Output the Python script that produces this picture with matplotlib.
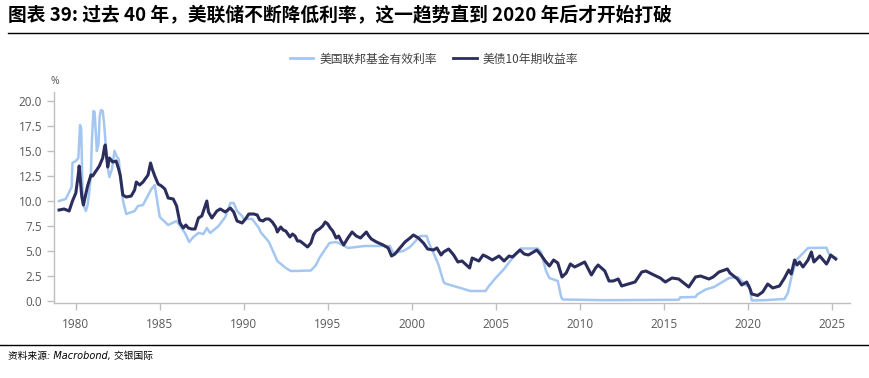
import matplotlib.pyplot as plt
from matplotlib.lines import Line2D

plt.rcParams['font.family'] = ['Noto Sans CJK SC', 'DejaVu Sans']

# US effective federal funds rate (%)
ff_year = [1979.0, 1979.4, 1979.6, 1979.75, 1979.8, 1980.0, 1980.15, 1980.25, 1980.32, 1980.4,
           1980.5, 1980.6, 1980.7, 1980.8, 1980.9, 1980.95, 1981.05, 1981.12, 1981.25, 1981.35,
           1981.42, 1981.5, 1981.6, 1981.68, 1981.8, 1981.9, 1982.0, 1982.15, 1982.3, 1982.45,
           1982.55, 1982.65, 1982.8, 1983.0, 1983.5, 1983.7, 1984.0, 1984.5, 1984.7, 1984.9,
           1985.0, 1985.5, 1986.0, 1986.5, 1986.75, 1987.0, 1987.3, 1987.6, 1987.8, 1988.0,
           1988.5, 1988.9, 1989.2, 1989.4, 1989.6, 1989.9, 1990.0, 1990.5, 1990.9, 1991.0,
           1991.5, 1991.9, 1992.0, 1992.5, 1992.8, 1993.0, 1994.0, 1994.3, 1994.5, 1994.9,
           1995.1, 1995.5, 1995.9, 1996.2, 1997.2, 1998.0, 1998.7, 1998.9, 1999.5, 1999.9,
           2000.5, 2000.9, 2001.0, 2001.3, 2001.6, 2001.9, 2002.0, 2002.9, 2003.5, 2004.4,
           2004.6, 2005.0, 2005.5, 2006.0, 2006.5, 2007.5, 2007.7, 2008.0, 2008.2, 2008.7,
           2008.9, 2009.0, 2010.0, 2011.5, 2015.9, 2016.0, 2016.9, 2017.0, 2017.5, 2018.0,
           2018.5, 2018.9, 2019.4, 2019.6, 2019.9, 2020.1, 2020.25, 2021.0, 2022.2, 2022.4,
           2022.6, 2022.9, 2023.2, 2023.6, 2024.7, 2024.8, 2024.95, 2025.25]
ff_rate = [10.0, 10.2, 10.9, 11.4, 13.8, 14.0, 14.3, 17.6, 17.2, 11.0,
           9.4, 9.0, 9.6, 10.9, 12.8, 15.8, 19.0, 18.9, 15.0, 15.7,
           18.5, 19.1, 19.0, 17.8, 15.2, 13.3, 12.4, 13.2, 15.0, 14.4,
           14.2, 12.6, 10.1, 8.7, 9.0, 9.5, 9.6, 11.2, 11.6, 9.4,
           8.4, 7.6, 8.0, 6.8, 5.9, 6.4, 6.8, 6.7, 7.3, 6.8,
           7.5, 8.4, 9.8, 9.8, 9.0, 8.5, 8.2, 8.2, 7.3, 6.9,
           5.9, 4.4, 4.0, 3.3, 3.0, 3.0, 3.05, 3.6, 4.3, 5.3,
           5.8, 5.9, 5.6, 5.3, 5.5, 5.5, 5.5, 4.8, 5.0, 5.4,
           6.5, 6.5, 5.9, 4.8, 3.6, 1.9, 1.75, 1.3, 1.0, 1.0,
           1.5, 2.3, 3.2, 4.3, 5.25, 5.25, 4.9, 3.0, 2.3, 2.0,
           0.4, 0.15, 0.12, 0.08, 0.12, 0.37, 0.4, 0.65, 1.15, 1.4,
           1.9, 2.3, 2.4, 2.1, 1.55, 1.6, 0.05, 0.08, 0.2, 0.8,
           2.3, 4.1, 4.6, 5.3, 5.33, 4.85, 4.5, 4.33]

# US 10-year Treasury yield (%)
ty_year = [1979.0, 1979.3, 1979.6, 1979.8, 1980.0, 1980.15, 1980.2, 1980.35, 1980.45, 1980.7,
           1980.9, 1981.0, 1981.2, 1981.4, 1981.6, 1981.7, 1981.75, 1981.9, 1982.0, 1982.2,
           1982.4, 1982.55, 1982.65, 1982.8, 1983.0, 1983.3, 1983.5, 1983.6, 1983.8, 1984.0,
           1984.3, 1984.45, 1984.55, 1984.7, 1984.9, 1985.1, 1985.3, 1985.5, 1985.8, 1986.0,
           1986.2, 1986.4, 1986.55, 1986.7, 1986.9, 1987.1, 1987.3, 1987.5, 1987.7, 1987.8,
           1987.9, 1988.1, 1988.4, 1988.6, 1988.9, 1989.2, 1989.4, 1989.6, 1989.9, 1990.1,
           1990.3, 1990.6, 1990.8, 1990.95, 1991.15, 1991.3, 1991.5, 1991.7, 1991.9, 1992.0,
           1992.2, 1992.35, 1992.5, 1992.75, 1992.9, 1993.05, 1993.2, 1993.35, 1993.5, 1993.65,
           1993.8, 1994.0, 1994.15, 1994.3, 1994.5, 1994.7, 1994.85, 1995.0, 1995.15, 1995.3,
           1995.5, 1995.65, 1995.8, 1995.95, 1996.2, 1996.45, 1996.7, 1996.95, 1997.3, 1997.45,
           1997.6, 1997.9, 1998.3, 1998.6, 1998.8, 1999.0, 1999.3, 1999.6, 1999.9, 2000.1,
           2000.4, 2000.7, 2000.95, 2001.3, 2001.5, 2001.75, 2001.9, 2002.2, 2002.5, 2002.75,
           2003.0, 2003.45, 2003.6, 2004.0, 2004.25, 2004.5, 2004.8, 2005.2, 2005.5, 2005.8,
           2006.0, 2006.45, 2006.7, 2006.95, 2007.45, 2007.7, 2007.95, 2008.2, 2008.45, 2008.7,
           2008.95, 2009.2, 2009.45, 2009.7, 2009.95, 2010.3, 2010.7, 2010.95, 2011.1, 2011.5,
           2011.75, 2012.0, 2012.3, 2012.5, 2012.9, 2013.3, 2013.7, 2013.95, 2014.3, 2014.8,
           2015.1, 2015.5, 2015.9, 2016.5, 2016.9, 2017.2, 2017.7, 2017.95, 2018.3, 2018.8,
           2018.95, 2019.4, 2019.65, 2019.95, 2020.15, 2020.25, 2020.6, 2020.9, 2021.2, 2021.5,
           2021.9, 2022.2, 2022.45, 2022.6, 2022.8, 2022.95, 2023.1, 2023.3, 2023.6, 2023.8,
           2023.95, 2024.3, 2024.7, 2024.8, 2024.95, 2025.1, 2025.25]
ty_rate = [9.1, 9.2, 9.0, 10.0, 10.8, 12.7, 13.5, 10.5, 9.6, 11.5,
           12.6, 12.5, 13.0, 13.5, 14.3, 15.3, 15.6, 13.4, 14.3, 13.9,
           14.0, 13.2, 12.5, 10.6, 10.4, 10.5, 11.1, 11.9, 11.6, 11.9,
           12.6, 13.8, 13.2, 12.5, 11.7, 11.5, 11.2, 10.3, 10.2, 9.5,
           7.8, 7.3, 7.6, 7.3, 7.2, 7.2, 8.3, 8.5, 9.5, 10.0,
           8.9, 8.3, 9.0, 9.2, 8.9, 9.3, 8.9, 8.0, 7.8, 8.2,
           8.7, 8.7, 8.6, 8.1, 8.0, 8.2, 8.2, 7.9, 7.4, 6.9,
           7.4, 7.1, 7.0, 6.4, 6.7, 6.5, 6.0, 6.0, 5.8, 5.6,
           5.4, 5.8, 6.6, 7.0, 7.2, 7.5, 7.9, 7.7, 7.3, 7.0,
           6.3, 6.5, 6.0, 5.6, 6.3, 6.9, 6.5, 6.3, 6.9, 6.5,
           6.2, 5.9, 5.6, 5.3, 4.5, 4.7, 5.3, 5.9, 6.3, 6.6,
           6.3, 5.8, 5.2, 5.1, 5.3, 4.6, 4.9, 5.2, 4.6, 3.9,
           4.0, 3.3, 4.3, 4.0, 4.6, 4.4, 4.1, 4.5, 4.0, 4.5,
           4.4, 5.1, 4.7, 4.6, 5.1, 4.6, 4.0, 3.5, 4.1, 3.8,
           2.4, 2.8, 3.7, 3.4, 3.6, 3.9, 2.6, 3.3, 3.6, 3.0,
           2.0, 2.0, 2.2, 1.5, 1.7, 1.9, 2.9, 3.0, 2.7, 2.3,
           1.9, 2.3, 2.2, 1.4, 2.4, 2.5, 2.2, 2.4, 2.9, 3.2,
           2.8, 2.2, 1.6, 1.9, 1.2, 0.7, 0.55, 0.9, 1.7, 1.3,
           1.5, 2.3, 3.1, 2.7, 4.1, 3.6, 3.9, 3.4, 4.1, 4.9,
           3.9, 4.5, 3.7, 4.0, 4.6, 4.4, 4.2]

y_ticks = [0.0, 2.5, 5.0, 7.5, 10.0, 12.5, 15.0, 17.5, 20.0]
x_ticks = [1980, 1985, 1990, 1995, 2000, 2005, 2010, 2015, 2020, 2025]

title = '图表 39: 过去 40 年，美联储不断降低利率，这一趋势直到 2020 年后才开始打破'
ff_label = '美国联邦基金有效利率'
ty_label = '美债10年期收益率'
source = '资料来源: Macrobond, 交银国际'

ff_colour = '#A4C7F1'
ty_colour = '#2B2E5C'
axis_grey = '#BFBFBF'
text_grey = '#595959'

fig = plt.figure(figsize=(8.7, 3.78), dpi=100, facecolor='white')
ax = fig.add_axes([54/870, 1 - 303/378, (850 - 54)/870, (303 - 92)/378])

ax.plot(ff_year, ff_rate, color=ff_colour, lw=1.8)
ax.plot(ty_year, ty_rate, color=ty_colour, lw=2.2)

ax.set_xlim(1978.7, 2026.1)
ax.set_ylim(-0.2, 20.9)
ax.set_yticks(y_ticks)
ax.set_yticklabels(['%.1f' % v for v in y_ticks])
ax.set_xticks(x_ticks)
ax.set_xticklabels([str(v) for v in x_ticks])
for side in ('top', 'right'):
    ax.spines[side].set_visible(False)
for side in ('left', 'bottom'):
    ax.spines[side].set_color(axis_grey)
    ax.spines[side].set_linewidth(1.0)
ax.tick_params(axis='both', colors=axis_grey, labelcolor=text_grey, labelsize=8.5,
               direction='out', length=5, width=1.0)
ax.tick_params(axis='x', pad=6)
for lab in ax.get_xticklabels() + ax.get_yticklabels():
    lab.set_family(['Open Sans', 'DejaVu Sans'])

fig.text(55/870, 1 - 82/378, '%', fontsize=7.5, color=text_grey, ha='center', va='center',
         family=['Open Sans', 'DejaVu Sans'])

handles = [Line2D([], [], color=ff_colour, lw=2.0), Line2D([], [], color=ty_colour, lw=2.0)]
fig.legend(handles, [ff_label, ty_label], loc='center', bbox_to_anchor=(434/870, 1 - 59/378),
           ncol=2, frameon=False, fontsize=8.5, handlelength=2.0, handletextpad=0.5,
           columnspacing=1.4, labelcolor='#404040')

# title and rules
fig.text(8/870, 1 - 16/378, title, fontsize=13.5, fontweight='bold', ha='left', va='center')
fig.add_artist(Line2D([8/870, 1], [1 - 33/378, 1 - 33/378], color='black', lw=1.0))
fig.add_artist(Line2D([0, 1], [1 - 345/378, 1 - 345/378], color='black', lw=1.0))
fig.text(8/870, 1 - 356/378, source, fontsize=7, style='italic', ha='left', va='center',
         family=['DejaVu Sans', 'Noto Sans CJK SC'])

fig.savefig('out.png', dpi=100, facecolor='white')
